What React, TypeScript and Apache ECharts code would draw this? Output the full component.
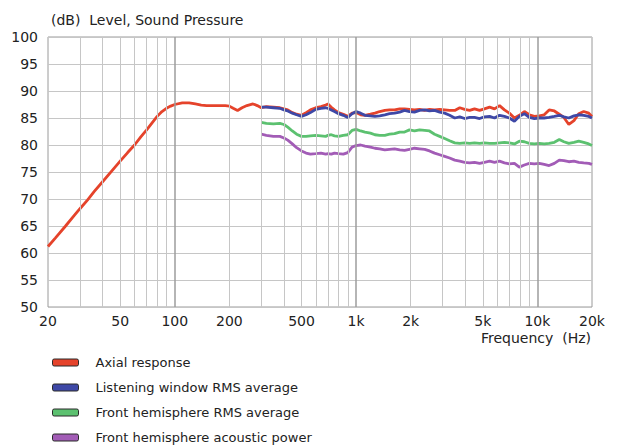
import React, { useEffect, useRef } from "react";
import * as echarts from "echarts";

const FONT = "'DejaVu Sans', Verdana, sans-serif";

const seriesNames = [
  "Axial response",
  "Listening window RMS average",
  "Front hemisphere RMS average",
  "Front hemisphere acoustic power",
];
const seriesColors = ["#e5432b", "#3e48a6", "#5cc170", "#a25cb6"];

const xTickLabels = [20, 50, 100, 200, 500, 1000, 2000, 5000, 10000, 20000];
const minorGridFreqs = [30, 40, 50, 60, 70, 80, 90, 200, 300, 400, 500, 600, 700, 800, 900, 2000, 3000, 4000, 5000, 6000, 7000, 8000, 9000];
const majorGridFreqs = [100, 1000, 10000];

// Axial response, low-frequency part (20–285 Hz)
const axialLowFreq = [20, 22, 25, 28, 30, 33, 36, 40, 45, 50, 55, 60, 65, 70, 75, 80, 85, 90, 95, 100, 110, 120, 130, 140, 150, 170, 190, 200, 210, 222, 235, 250, 270, 285];
const axialLowDb = [61.2, 62.8, 65.0, 67.0, 68.2, 69.8, 71.4, 73.2, 75.2, 77.0, 78.6, 80.0, 81.5, 82.8, 84.1, 85.3, 86.2, 86.8, 87.2, 87.5, 87.8, 87.8, 87.6, 87.4, 87.3, 87.3, 87.3, 87.2, 86.8, 86.4, 86.9, 87.3, 87.6, 87.3];

// Common band 300 Hz – 20 kHz
const bandFreq = [
  300, 320, 350, 380, 400, 420, 445, 470, 500, 530,
  560, 600, 640, 680, 700, 730, 760, 800, 850, 900,
  950, 1000, 1060, 1120, 1200, 1270, 1350, 1440, 1530, 1630,
  1740, 1850, 1970, 2100, 2240, 2390, 2540, 2710, 2890, 3080,
  3280, 3500, 3730, 3970, 4230, 4500, 4800, 5100, 5450, 5800,
  6180, 6580, 7000, 7470, 7950, 8470, 9020, 9610, 10240, 10900,
  11600, 12400, 13200, 14000, 14900, 15900, 16900, 18000, 19200, 20000,
];
const axialBandDb = [
  86.9, 87.1, 87.0, 86.9, 86.7, 86.5, 86.0, 85.7, 85.5, 86.0,
  86.5, 86.9, 87.1, 87.4, 87.6, 87.0, 86.5, 86.0, 85.7, 85.3,
  85.9, 86.0, 85.6, 85.5, 85.7, 85.9, 86.2, 86.4, 86.5, 86.5,
  86.7, 86.7, 86.6, 86.5, 86.6, 86.4, 86.6, 86.5, 86.6, 86.5,
  86.4, 86.4, 86.9, 86.6, 86.4, 86.7, 86.4, 86.7, 87.0, 86.7,
  87.3, 86.5, 85.9, 85.0, 85.5, 86.2, 85.6, 85.3, 85.4, 85.6,
  86.5, 86.3, 85.7, 85.1, 83.8, 84.5, 85.8, 86.2, 85.9, 85.3,
];
const listeningDb = [
  87.0, 87.0, 86.9, 86.8, 86.5, 86.3, 85.9, 85.6, 85.3, 85.6,
  86.0, 86.6, 86.8, 86.9, 86.8, 86.5, 86.2, 85.8, 85.5, 85.1,
  85.8, 86.2, 85.9, 85.5, 85.4, 85.3, 85.4, 85.6, 85.8, 85.9,
  86.1, 86.4, 86.2, 86.1, 86.4, 86.5, 86.3, 86.4, 86.1, 85.9,
  85.5, 85.0, 85.2, 84.9, 85.1, 85.1, 84.9, 85.2, 85.3, 85.0,
  85.5, 85.3, 85.0, 84.4, 85.3, 85.8, 85.1, 84.9, 85.0, 85.0,
  85.1, 85.3, 85.5, 85.2, 85.0, 85.4, 85.6, 85.5, 85.3, 85.0,
];
const frontRmsDb = [
  84.2, 84.0, 83.9, 84.0, 83.8, 83.3, 82.6, 82.0, 81.6, 81.6,
  81.7, 81.8, 81.7, 81.6, 81.8, 81.9, 81.7, 81.6, 81.8, 81.9,
  82.7, 82.9, 82.6, 82.4, 82.2, 81.9, 81.8, 81.8, 82.0, 82.1,
  82.4, 82.4, 82.8, 82.6, 82.8, 82.7, 82.6, 82.0, 81.6, 81.2,
  80.8, 80.4, 80.3, 80.4, 80.3, 80.4, 80.3, 80.4, 80.3, 80.3,
  80.4, 80.5, 80.4, 80.2, 80.7, 80.6, 80.3, 80.2, 80.3, 80.2,
  80.3, 80.5, 81.0, 80.6, 80.3, 80.5, 80.7, 80.5, 80.2, 79.9,
];
const acousticPowerDb = [
  82.0, 81.8, 81.6, 81.6, 81.3, 80.9, 80.2, 79.5, 78.9, 78.5,
  78.3, 78.4, 78.5, 78.3, 78.4, 78.3, 78.5, 78.4, 78.3, 78.6,
  79.6, 79.9, 80.0, 79.8, 79.6, 79.4, 79.3, 79.1, 79.2, 79.3,
  79.1, 79.0, 79.2, 79.4, 79.3, 79.2, 78.9, 78.5, 78.2, 77.9,
  77.6, 77.2, 77.0, 76.8, 76.7, 76.8, 76.6, 76.8, 77.0, 76.8,
  77.0, 76.7, 76.5, 76.6, 75.9, 76.3, 76.6, 76.5, 76.6, 76.4,
  76.2, 76.6, 77.2, 77.1, 76.9, 77.0, 76.8, 76.7, 76.6, 76.4,
];

const pairs = (fs: number[], vs: number[]) => fs.map((f, i) => [f, vs[i]]);

const fmtFreq = (v: number) => (v >= 1000 ? `${Math.round(v / 1000)}k` : `${v}`);

export default function App() {
  const ref = useRef<HTMLDivElement>(null);

  useEffect(() => {
    if (!ref.current) return;
    const chart = echarts.init(ref.current, undefined, { renderer: "svg" });

    const seriesData = [
      pairs(axialLowFreq, axialLowDb).concat(pairs(bandFreq, axialBandDb)),
      pairs(bandFreq, listeningDb),
      pairs(bandFreq, frontRmsDb),
      pairs(bandFreq, acousticPowerDb),
    ];

    const gridLineData = [
      ...minorGridFreqs.map((f) => ({ xAxis: f, lineStyle: { color: "#c6c6c6", width: 1, type: "solid" } })),
      ...majorGridFreqs.map((f) => ({ xAxis: f, lineStyle: { color: "#9c9c9c", width: 1.5, type: "solid" } })),
    ];

    chart.setOption({
      animation: false,
      backgroundColor: "#ffffff",
      title: {
        text: "(dB)  Level, Sound Pressure",
        left: 46,
        top: 8,
        textStyle: { fontFamily: FONT, fontSize: 14, fontWeight: "normal", color: "#222" },
      },
      graphic: [
        {
          type: "text",
          right: 28,
          top: 331,
          style: { text: "Frequency  (Hz)", font: `14px ${FONT}`, fill: "#222" },
        },
      ],
      legend: {
        orient: "vertical",
        left: 52,
        top: 354,
        height: 110,
        padding: 0,
        itemWidth: 26,
        itemHeight: 7,
        itemGap: 8,
        icon: "roundRect",
        selectedMode: false,
        data: seriesNames,
        itemStyle: { borderColor: "#2a2a2a", borderWidth: 1 },
        textStyle: { fontFamily: FONT, fontSize: 13, color: "#222", padding: [0, 0, 0, 12], lineHeight: 17 },
      },
      grid: {
        left: 48,
        right: 27,
        top: 37,
        bottom: 141,
        show: true,
        borderColor: "#9a9a9a",
        borderWidth: 1,
      },
      xAxis: {
        type: "log",
        logBase: 10,
        min: 20,
        max: 20000,
        axisLine: { show: false },
        axisTick: { show: false },
        splitLine: { show: false },
        axisLabel: {
          customValues: xTickLabels,
          formatter: (v: number) => fmtFreq(v),
          fontFamily: FONT,
          fontSize: 14,
          color: "#222",
          margin: 7,
        },
      },
      yAxis: {
        type: "value",
        min: 50,
        max: 100,
        interval: 5,
        axisLine: { show: false },
        axisTick: { show: false },
        splitLine: { show: true, lineStyle: { color: "#c6c6c6", width: 1 } },
        axisLabel: { fontFamily: FONT, fontSize: 14, color: "#222", margin: 10 },
      },
      series: [
        {
          name: "__grid",
          type: "line",
          data: [[20, 50]],
          symbol: "none",
          lineStyle: { opacity: 0 },
          silent: true,
          z: 1,
          markLine: {
            silent: true,
            symbol: "none",
            label: { show: false },
            data: gridLineData,
          },
        },
        ...seriesNames.map((name, i) => ({
          name,
          type: "line",
          data: seriesData[i],
          showSymbol: false,
          symbol: "none",
          color: seriesColors[i],
          itemStyle: { color: seriesColors[i] },
          lineStyle: { color: seriesColors[i], width: 2.8 },
          z: 3,
        })),
      ],
    });

    return () => chart.dispose();
  }, []);

  return <div ref={ref} style={{ position: "fixed", left: 0, top: 0, width: 619, height: 448 }} />;
}
